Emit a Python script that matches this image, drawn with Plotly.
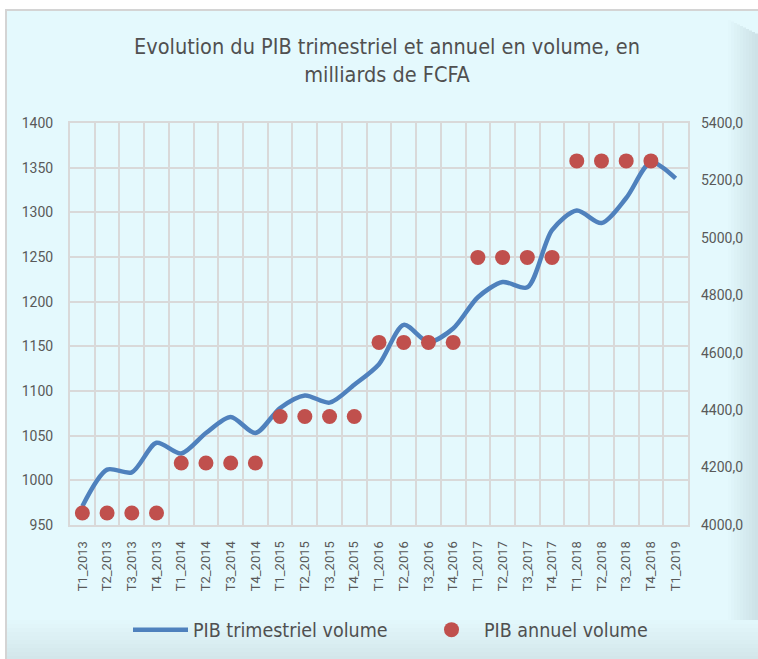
import plotly.graph_objects as go

categories = ["T1_2013", "T2_2013", "T3_2013", "T4_2013",
              "T1_2014", "T2_2014", "T3_2014", "T4_2014",
              "T1_2015", "T2_2015", "T3_2015", "T4_2015",
              "T1_2016", "T2_2016", "T3_2016", "T4_2016",
              "T1_2017", "T2_2017", "T3_2017", "T4_2017",
              "T1_2018", "T2_2018", "T3_2018", "T4_2018",
              "T1_2019"]

pib_trimestriel = [971, 1012, 1009, 1042, 1030, 1053, 1071, 1053,
                   1081, 1095, 1087, 1107, 1130, 1174, 1155, 1170,
                   1205, 1222, 1216, 1280, 1302, 1288, 1316, 1356,
                   1338]

annual_categories = categories[:24]
pib_annuel = [4042, 4042, 4042, 4042,
              4216, 4216, 4216, 4216,
              4378, 4378, 4378, 4378,
              4636, 4636, 4636, 4636,
              4932, 4932, 4932, 4932,
              5268, 5268, 5268, 5268]

W, H = 758, 659
ML, MR, MT, MB = 70, 70, 123, 134
pw, ph = W - ML - MR, H - MT - MB

def px(x):
    return (x - ML) / pw

def py(y):
    return 1 - (y - MT) / ph

def mix(c1, c2, t):
    a = [int(c1[i:i + 2], 16) for i in (1, 3, 5)]
    b = [int(c2[i:i + 2], 16) for i in (1, 3, 5)]
    return "#" + "".join(f"{round(a[k] + (b[k] - a[k]) * t):02X}" for k in range(3))

fig = go.Figure()
fig.add_trace(go.Scatter(
    x=categories, y=pib_trimestriel, mode="lines",
    name="PIB trimestriel volume",
    line=dict(color="#4F81BD", width=4.5, shape="spline", smoothing=0.8),
))
fig.add_trace(go.Scatter(
    x=annual_categories, y=pib_annuel, mode="markers",
    name="PIB annuel volume", yaxis="y2",
    marker=dict(color="#C0504D", size=15),
))

tickfont = dict(family="Roboto, Liberation Sans, sans-serif", size=14, color="#595959")
xtickfont = dict(family="Roboto, Liberation Sans, sans-serif", size=13, color="#595959")
narrow = "Liberation Sans Narrow, DejaVu Sans Condensed, sans-serif"

BG = "#E4F9FD"
shapes = [
    dict(type="rect", xref="paper", yref="paper", layer="below",
         x0=px(6), x1=px(760), y0=py(661), y1=py(10),
         fillcolor=BG, line=dict(color="#D4D4D4", width=2)),
]
# bottom gradient
n = 10
for i in range(n):
    y0 = 620 + i * 4
    shapes.append(dict(type="rect", xref="paper", yref="paper", layer="below",
                       x0=px(7), x1=px(758), y0=py(y0 + 4), y1=py(y0),
                       fillcolor=mix(BG, "#D3E6EA", (i + 1) / n), line=dict(width=0)))
# right gradient
for i in range(n):
    x0 = 728 + i * 3
    shapes.append(dict(type="rect", xref="paper", yref="paper", layer="below",
                       x0=px(x0), x1=px(x0 + 3 if i < n - 1 else 760),
                       y0=py(620), y1=py(20 + i * 1.5),
                       fillcolor=mix(BG, "#CDE2E7", (i + 1) / n), line=dict(width=0)))

fig.update_layout(
    width=W, height=H,
    margin=dict(l=ML, r=MR, t=MT, b=MB, autoexpand=False),
    paper_bgcolor="white",
    plot_bgcolor="#EBEEDE",
    separators=", ",
    title=dict(
        text="Evolution du PIB trimestriel et annuel en volume, en<br>milliards de FCFA",
        x=(387 - ML) / pw, xanchor="center", xref="paper",
        y=1 - 54 / H, yanchor="middle", yref="container",
        font=dict(family=narrow, size=21.5, color="#505050"),
    ),
    xaxis=dict(
        type="category", tickson="boundaries",
        showgrid=True, gridcolor="#D9D9D9", gridwidth=1.5,
        showline=True, linecolor="#D9D9D9", linewidth=2, mirror=True,
        ticks="", tickangle=-90, tickfont=xtickfont, ticklabelstandoff=9,
        range=[-0.5, 24.5], zeroline=False, automargin=False,
    ),
    yaxis=dict(
        range=[950, 1400], dtick=50, tick0=950,
        showgrid=True, gridcolor="#D9D9D9", gridwidth=1.5,
        showline=True, linecolor="#D9D9D9", linewidth=2, mirror=True,
        ticks="", tickfont=tickfont, ticklabelstandoff=12, zeroline=False,
        automargin=False,
    ),
    yaxis2=dict(
        range=[4000, 5400], dtick=200, tick0=4000, overlaying="y", side="right",
        showgrid=False, tickformat=".1f", ticks="", tickfont=tickfont,
        ticklabelstandoff=12, zeroline=False, showline=False, automargin=False,
    ),
    legend=dict(
        orientation="h", x=128 / W, xanchor="left", xref="container",
        y=1 - 630 / H, yanchor="middle", yref="container",
        font=dict(family=narrow, size=19.5, color="#505050"),
        bgcolor="rgba(0,0,0,0)", itemwidth=55,
        entrywidthmode="pixels", entrywidth=221,
    ),
    shapes=shapes,
    showlegend=True,
)

fig.write_html("out.html", post_script="document.body.style.margin='0';",
               config={"displayModeBar": False})
